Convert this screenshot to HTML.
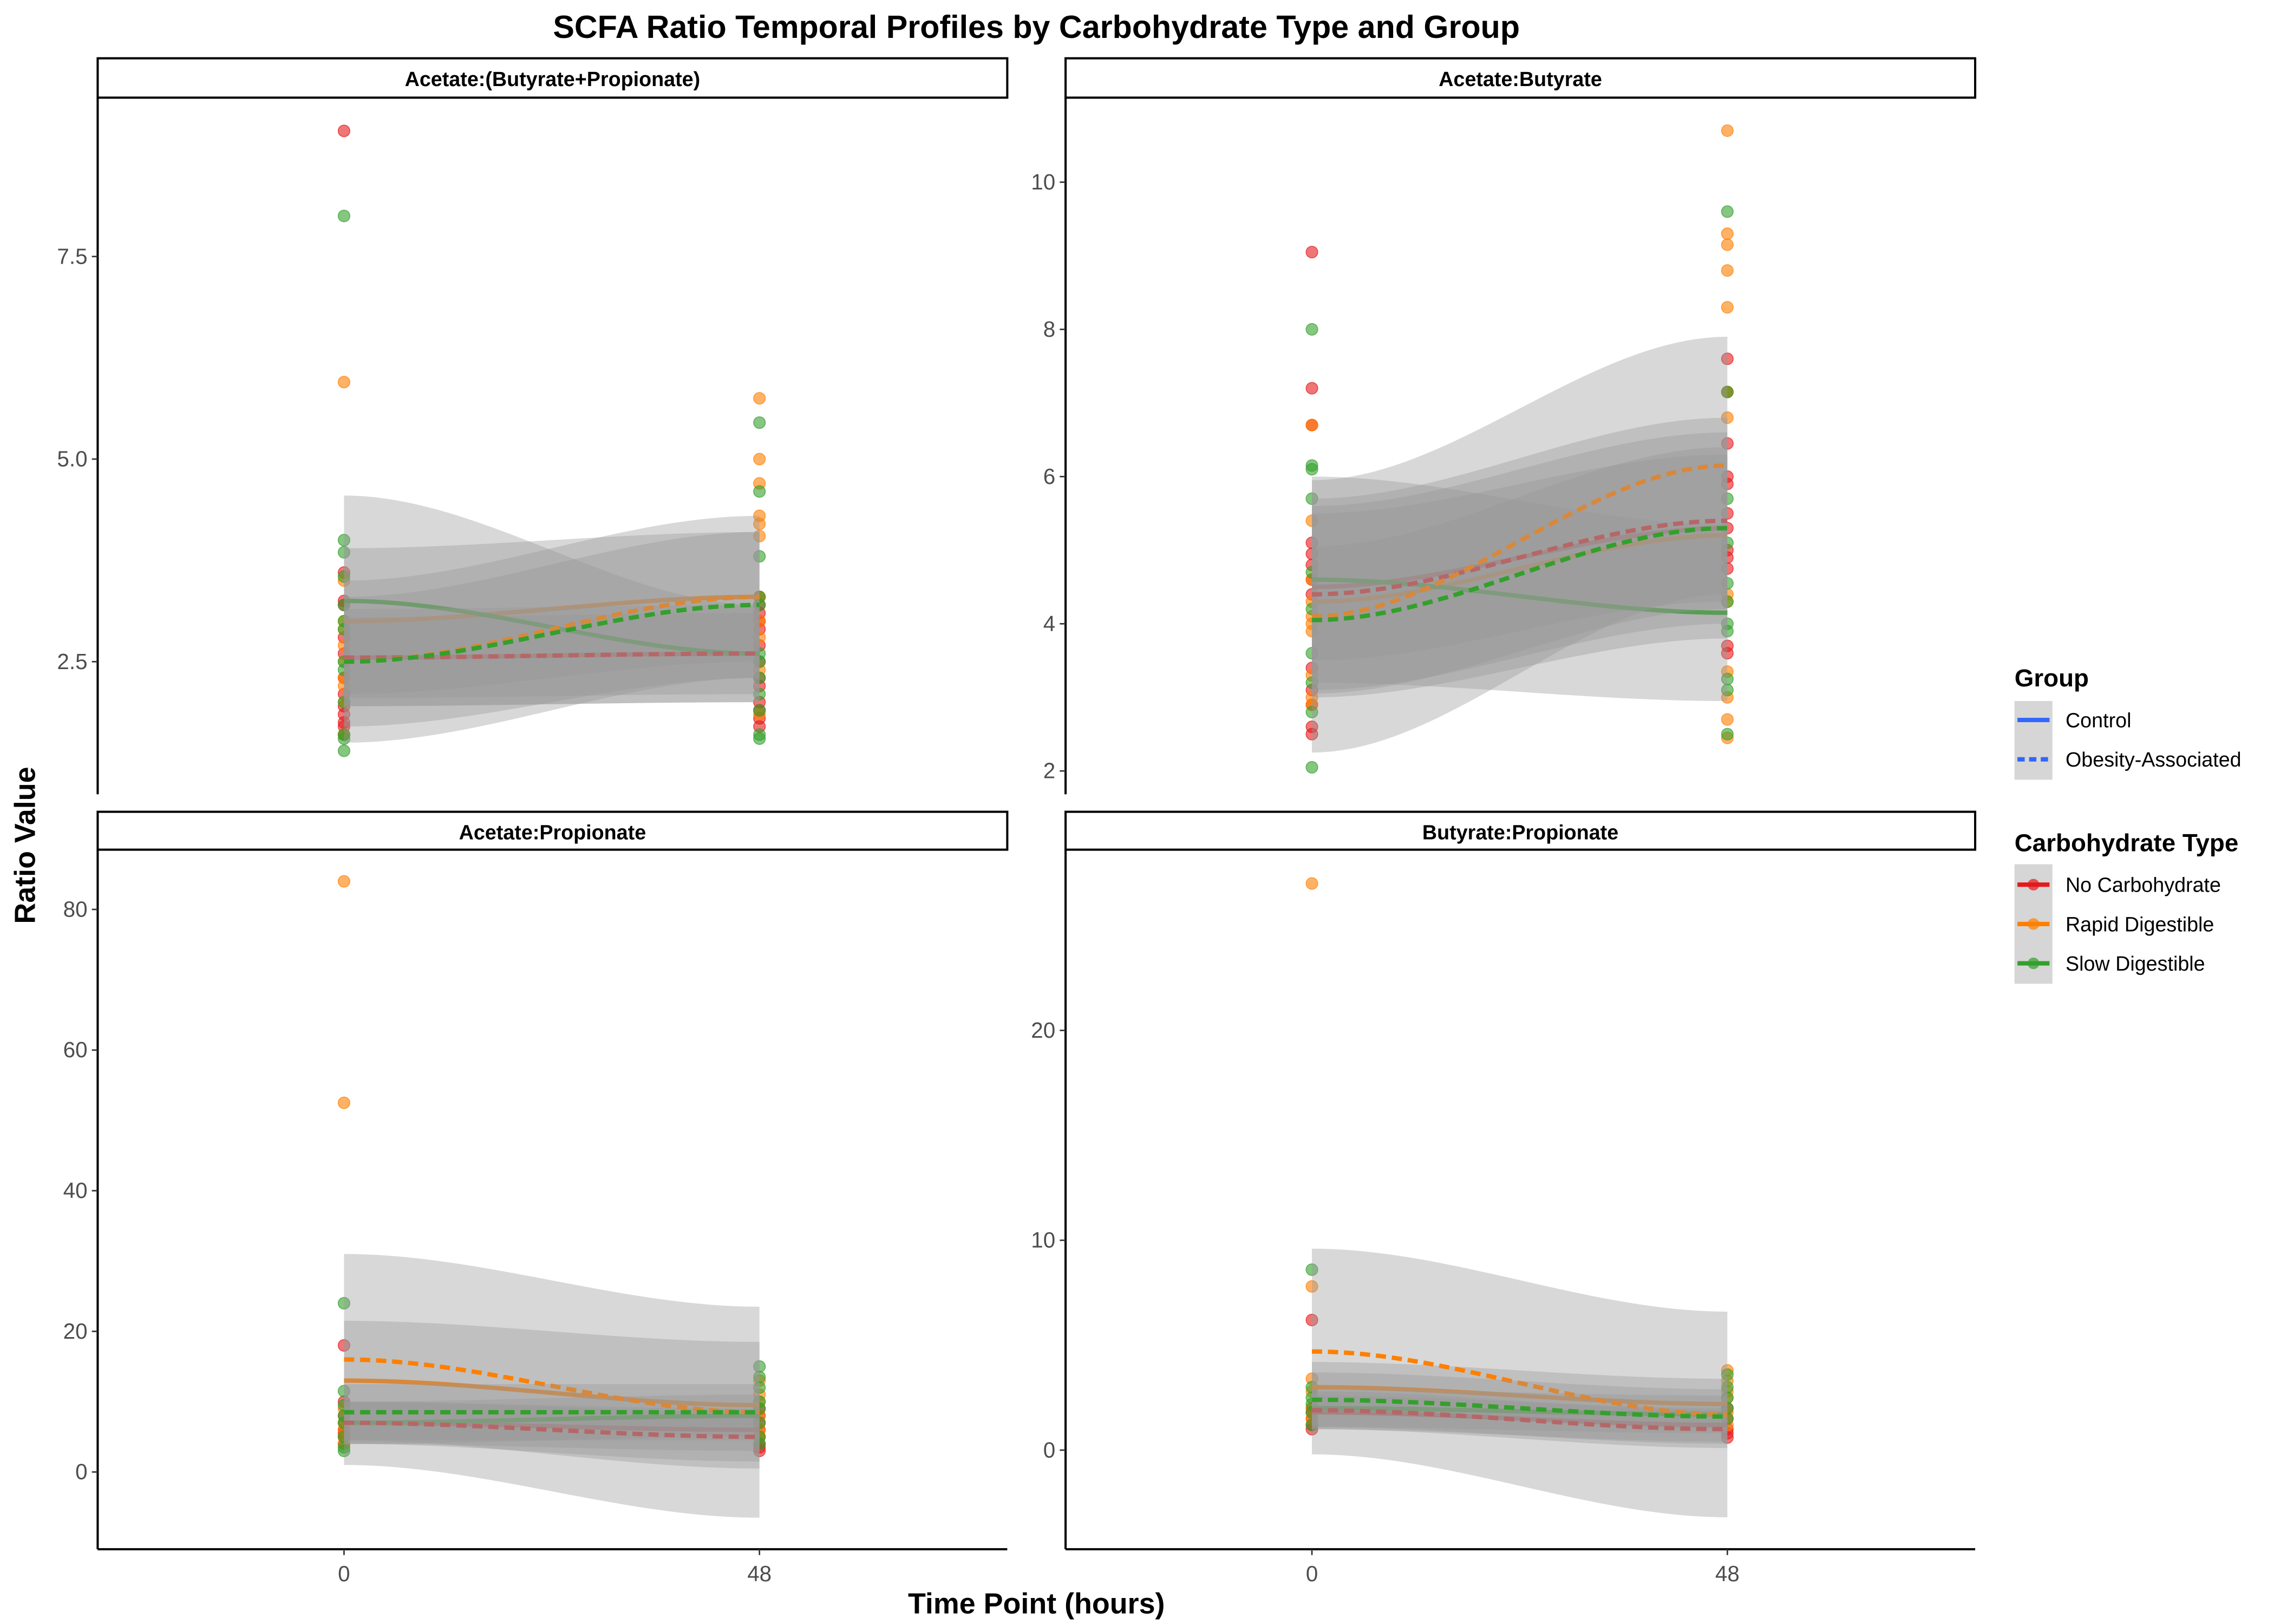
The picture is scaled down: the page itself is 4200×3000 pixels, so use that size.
<!DOCTYPE html>
<html><head><meta charset="utf-8"><style>
html,body{margin:0;padding:0;background:#fff;}
svg{display:block;font-family:"Liberation Sans",Arial,sans-serif;}
</style></head><body>
<svg id="chart" width="4200" height="3000" viewBox="0 0 1560 1114.3" xmlns="http://www.w3.org/2000/svg">
<rect x="0" y="0" width="1560" height="1115" fill="#fff"/>
<text x="711" y="26" text-anchor="middle" font-size="22" font-weight="bold">SCFA Ratio Temporal Profiles by Carbohydrate Type and Group</text>
<text transform="translate(24,580) rotate(-90)" text-anchor="middle" font-size="20" font-weight="bold">Ratio Value</text>
<text x="711" y="1107" text-anchor="middle" font-size="20" font-weight="bold">Time Point (hours)</text>
<g id="panels"></g>
<g id="legend">
<text x="1382" y="471" font-size="17" font-weight="bold">Group</text>
<rect x="1382" y="481" width="26" height="54" fill="#d6d6d6"/>
<line x1="1384" y1="494" x2="1406" y2="494" stroke="#3366ff" stroke-width="3"/>
<line x1="1384" y1="521" x2="1406" y2="521" stroke="#3366ff" stroke-width="3" stroke-dasharray="5,3"/>
<text x="1417" y="499" font-size="14">Control</text>
<text x="1417" y="526" font-size="14">Obesity-Associated</text>
<text x="1382" y="584" font-size="17" font-weight="bold">Carbohydrate Type</text>
<rect x="1382" y="593" width="26" height="82" fill="#d6d6d6"/>
<line x1="1384" y1="607" x2="1406" y2="607" stroke="#e41a1c" stroke-width="3"/><circle cx="1395" cy="607" r="4" fill="#e41a1c" opacity="0.7"/>
<line x1="1384" y1="634" x2="1406" y2="634" stroke="#ff7f00" stroke-width="3"/><circle cx="1395" cy="634" r="4" fill="#ff7f00" opacity="0.7"/>
<line x1="1384" y1="661" x2="1406" y2="661" stroke="#33a02c" stroke-width="3"/><circle cx="1395" cy="661" r="4" fill="#33a02c" opacity="0.7"/>
<text x="1417" y="612" font-size="14">No Carbohydrate</text>
<text x="1417" y="639" font-size="14">Rapid Digestible</text>
<text x="1417" y="666" font-size="14">Slow Digestible</text>
</g>
</svg>
<script>
const panelTitles = ["Acetate:(Butyrate+Propionate)","Acetate:Butyrate","Acetate:Propionate","Butyrate:Propionate"];
const timePoints = [0,48];
const carbTypes = ["No Carbohydrate","Rapid Digestible","Slow Digestible"];
const yTicks = [[2.5,5.0,7.5],[2,4,6,8,10],[0,20,40,60,80],[0,10,20]];
const yTickLabels = [["2.5","5.0","7.5"],["2","4","6","8","10"],["0","20","40","60","80"],["0","10","20"]];
const pointsP1 = [
 [[9.05,3.6,3.25,3.2,2.8,2.6,2.3,2.1,1.95,1.85,1.75,1.7,1.6],[3.3,3.2,3.1,3.0,2.9,2.7,2.5,2.3,2.2,2.0,1.9,1.8,1.7]],
 [[5.95,3.5,3.0,2.9,2.7,2.5,2.3,2.2,2.0,1.6],[5.75,5.0,4.7,4.3,4.2,4.05,3.3,3.0,2.8,2.4,1.85]],
 [[8.0,4.0,3.85,3.55,3.2,3.0,2.9,2.5,2.4,2.0,1.6,1.55,1.4],[5.45,4.6,3.8,3.3,3.2,2.6,2.5,2.3,2.1,1.9,1.6,1.55]]];
const pointsP2 = [
 [[9.05,7.2,6.7,5.1,4.95,4.8,4.6,4.4,3.4,3.1,2.9,2.6,2.5],[7.6,7.15,6.45,6.0,5.9,5.5,5.3,5.0,4.9,4.75,3.7,3.6]],
 [[6.7,5.4,4.6,4.3,4.1,4.0,3.9,3.3,3.0,2.9],[10.7,9.3,9.15,8.8,8.3,7.15,6.8,4.4,4.3,3.35,3.0,2.7,2.45]],
 [[8.0,6.15,6.1,5.7,4.7,4.2,3.6,3.2,2.8,2.05],[9.6,7.15,5.7,5.1,4.55,4.3,4.0,3.9,3.25,3.1,2.5]]];
const pointsP3 = [
 [[18,10,8,7,6,5.5,5,4],[9,8,7,6,5,4,3.5,3]],
 [[84,52.5,9,7,6,5,4],[13,11,10,8,6,5]],
 [[24,11.5,9.5,8,7,5,3.5,3],[15,13.5,12,10,9,7,5,4]]];
const pointsP4 = [
 [[6.2,2,1.8,1.5,1.2,1.0],[2.0,1.5,1.0,0.8,0.6]],
 [[27,7.8,3.4,2.8,2.0,1.5],[3.8,3.3,2.8,2.5,1.8,1.2]],
 [[8.6,3.0,2.5,2.2,1.8,1.2],[3.6,3.0,2.5,2.0,1.5]]];
const allPoints = [pointsP1,pointsP2,pointsP3,pointsP4];
// smooth fits: [carbIndex, dashed(obese)?, y0, y48, halfCI0, halfCI48]
const fitsP1 = [[0,0,2.55,2.6,0.5,0.5],[1,0,3.0,3.3,0.9,0.8],[2,0,3.25,2.6,1.3,0.6],[0,1,2.55,2.6,0.6,0.6],[1,1,2.5,3.3,1.0,1.0],[2,1,2.5,3.2,0.8,0.9]];
const fitsP2 = [[0,0,4.5,5.3,1.0,1.0],[1,0,4.3,5.2,1.3,1.4],[2,0,4.6,4.15,1.4,1.2],[0,1,4.4,5.4,1.3,1.4],[1,1,4.1,6.15,1.85,1.75],[2,1,4.05,5.3,1.0,1.1]];
const fitsP3 = [[0,0,7,6,3,3],[1,0,13,9.5,8.5,9],[2,0,7,8,3,3],[0,1,7,5,3,3.5],[1,1,16,8.5,15,15],[2,1,8.5,8.5,4,4]];
const fitsP4 = [[0,0,1.8,1.2,0.8,0.8],[1,0,3.0,2.2,1.2,1.2],[2,0,2.0,1.7,0.9,0.9],[0,1,1.9,1.0,0.9,0.9],[1,1,4.7,1.7,4.9,4.9],[2,1,2.4,1.6,1.3,1.3]];
const allFits = [fitsP1,fitsP2,fitsP3,fitsP4];

const colors = ["#e41a1c","#ff7f00","#33a02c"];
const layout = [
 {x0:67,x1:691,stripY:40,top:67,bot:545,xa:236,xb:521,ya:[2.5,454],yb:[7.5,176],bottomAxis:false},
 {x0:731,x1:1355,stripY:40,top:67,bot:545,xa:900,xb:1185,ya:[2,529],yb:[10,125],bottomAxis:false},
 {x0:67,x1:691,stripY:557,top:583,bot:1063,xa:236,xb:521,ya:[0,1010],yb:[80,624],bottomAxis:true},
 {x0:731,x1:1355,stripY:557,top:583,bot:1063,xa:900,xb:1185,ya:[0,995],yb:[20,707],bottomAxis:true}];
const NS="http://www.w3.org/2000/svg";
const root=document.getElementById('panels');
function mk(tag,attrs,parent){const e=document.createElementNS(NS,tag);for(const k in attrs)e.setAttribute(k,attrs[k]);parent.appendChild(e);return e;}
layout.forEach((L,p)=>{
 const g=mk('g',{},root);
 
 
 const xs=t=>L.xa+(t-timePoints[0])/(timePoints[1]-timePoints[0])*(L.xb-L.xa);
 const ys=v=>L.ya[1]+(v-L.ya[0])/(L.yb[0]-L.ya[0])*(L.yb[1]-L.ya[1]);
 const clip='clip'+p;
 const cp=mk('clipPath',{id:clip},g);mk('rect',{x:L.x0,y:L.top,width:L.x1-L.x0,height:L.bot-L.top},cp);
 const data=mk('g',{'clip-path':'url(#'+clip+')'},g);
 allPoints[p].forEach((byT,c)=>byT.forEach((vals,ti)=>vals.forEach(v=>{
  const pt=mk('circle',{cx:xs(timePoints[ti]),cy:ys(v),r:4,fill:colors[c],'fill-opacity':0.6,stroke:colors[c],'stroke-opacity':0.7,'stroke-width':0.6},data);
  
  
 })));
 const N=40;
 const interp=(a,b,t)=>{const s=3*t*t-2*t*t*t;return a+(b-a)*s;};
 allFits[p].forEach(f=>{
  let up=[],lo=[],pts=[];
  for(let i=0;i<=N;i++){const t=i/N;const x=xs(timePoints[0]+t*(timePoints[1]-timePoints[0]));const m=interp(f[2],f[3],t);const h=interp(f[4],f[5],t);up.push(x+','+ys(m+h));lo.push(x+','+ys(m-h));pts.push(x+','+ys(m));}
  const rb=mk('polygon',{points:up.concat(lo.reverse()).join(' '),fill:'#999','fill-opacity':0.38},data);
  
  
  const attrs={points:pts.join(' '),fill:'none',stroke:colors[f[0]],'stroke-width':3};
  if(f[1])attrs['stroke-dasharray']='7,4';
  const ln=mk('polyline',attrs,data);
  
  
 });
 const st=mk('rect',{x:L.x0,y:L.stripY,width:L.x1-L.x0,height:L.top-L.stripY,fill:'#fff',stroke:'#000','stroke-width':1.5},g);
 
 
 const stt=mk('text',{x:(L.x0+L.x1)/2,y:L.stripY+19,'text-anchor':'middle','font-size':14,'font-weight':'bold'},g);
 stt.textContent=panelTitles[p];
 
 
 const ya=mk('line',{x1:L.x0,y1:L.top,x2:L.x0,y2:L.bot,stroke:'#000','stroke-width':1.5},g);
 
 
 yTicks[p].forEach((v,i)=>{
  const y=ys(v);
  mk('line',{x1:L.x0-4,y1:y,x2:L.x0,y2:y,stroke:'#333','stroke-width':1},g);
  const t=mk('text',{x:L.x0-7,y:y+5,'text-anchor':'end','font-size':15,fill:'#4d4d4d'},g);
  t.textContent=yTickLabels[p][i];
  
  
 });
 if(L.bottomAxis){
  const xa=mk('line',{x1:L.x0,y1:L.bot,x2:L.x1,y2:L.bot,stroke:'#000','stroke-width':1.5},g);
  
  
  timePoints.forEach(tp=>{
   const x=xs(tp);
   mk('line',{x1:x,y1:L.bot,x2:x,y2:L.bot+4,stroke:'#333','stroke-width':1},g);
   const t=mk('text',{x:x,y:L.bot+22,'text-anchor':'middle','font-size':15,fill:'#4d4d4d'},g);
   t.textContent=String(tp);
   
   
  });
 }
});
</script>
</body></html>
